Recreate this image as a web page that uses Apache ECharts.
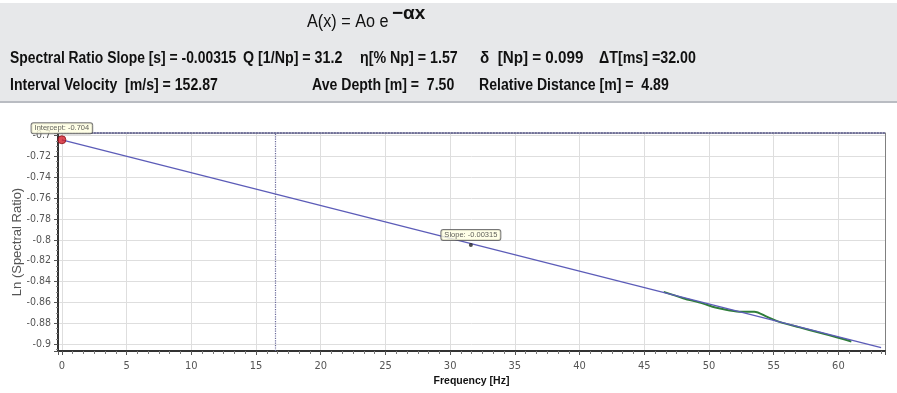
<!DOCTYPE html>
<html>
<head>
<meta charset="utf-8">
<script src="https://cdn.jsdelivr.net/npm/echarts@6/dist/echarts.min.js"></script>
<style>
  html, body { margin: 0; padding: 0; background: #fff; }
  #main { width: 897px; height: 393px; }
</style>
</head>
<body>
<div id="main"></div>
<script>
// fitted line (intercept / slope)
var fitFreq = [0, 63.3];
var fitLn = [-0.704, -0.9034];
// measured spectral ratio
var measFreq = [46.5, 48, 49.5, 50.5, 51.5, 52.5, 53.5, 54.5, 55.5, 57, 58.5, 60, 61];
var measLn = [-0.850, -0.856, -0.861, -0.865, -0.8675, -0.869, -0.869, -0.874, -0.879, -0.884, -0.889, -0.894, -0.8975];
// markers
var cursorFreq = 16.45;
var interceptPt = [0, -0.704];
var slopePt = [31.6, -0.805];
var interceptText = 'Intercept: -0.704';
var slopeText = 'Slope: -0.00315';

// header texts: [text, left x, horizontal squeeze]
var headerLine1 = [
    ['Spectral Ratio Slope [s] = -0.00315', 10, 0.867],
    ['Q [1/Np] = 31.2', 243, 0.89],
    ['\u03b7[% Np] = 1.57', 360, 0.89],
    ['\u03b4  [Np] = 0.099', 480, 0.95],
    ['\u0394T[ms] =32.00', 599, 0.89]
];
var headerLine2 = [
    ['Interval Velocity  [m/s] = 152.87', 10, 0.88],
    ['Ave Depth [m] =  7.50', 312, 0.88],
    ['Relative Distance [m] =  4.89', 479, 0.88]
];

function zip(a, b) {
    var res = [];
    for (var i = 0; i < a.length; i++) res.push([a[i], b[i]]);
    return res;
}

var myChart = echarts.init(document.getElementById('main'));

var headFont = 'bold 16px "Liberation Sans", Arial, sans-serif';
var graphics = [
    {
        type: 'rect', left: 0, top: 3, z: 0,
        shape: { width: 897, height: 99 },
        style: { fill: '#e7e8ea', stroke: null }
    },
    {
        type: 'rect', left: 0, top: 101, z: 0,
        shape: { width: 897, height: 2 },
        style: { fill: '#b9bcc2' }
    },
    {
        type: 'text', x: 307, y: 22, scaleX: 0.9, z: 1,
        style: { text: 'A(x) = Ao e', font: '18px "Liberation Sans", sans-serif', fill: '#111', verticalAlign: 'middle' }
    },
    {
        type: 'text', x: 392, y: 14, scaleX: 1, z: 1,
        style: { text: '\u2212\u03b1x', font: 'bold 19px "Liberation Sans", sans-serif', fill: '#111', verticalAlign: 'middle' }
    }
];
headerLine1.forEach(function (t) {
    graphics.push({ type: 'text', x: t[1], y: 59, scaleX: t[2], z: 1,
        style: { text: t[0], font: headFont, fill: '#111', verticalAlign: 'middle' } });
});
headerLine2.forEach(function (t) {
    graphics.push({ type: 'text', x: t[1], y: 86, scaleX: t[2], z: 1,
        style: { text: t[0], font: headFont, fill: '#111', verticalAlign: 'middle' } });
});

var tipLabel = {
    show: true,
    position: 'top',
    distance: 3,
    color: '#333',
    fontSize: 7.5,
    fontFamily: 'Liberation Sans, Arial, sans-serif',
    backgroundColor: '#ffffe1',
    borderColor: '#555',
    borderWidth: 1,
    borderRadius: 2,
    padding: [1, 3]
};

var tickFont = '"DejaVu Sans Condensed", "Liberation Sans", sans-serif';

var option = {
    animation: false,
    backgroundColor: '#fff',
    graphic: graphics,
    grid: { left: 58, right: 12, top: 133, bottom: 42, containLabel: false, outerBoundsMode: 'none' },
    xAxis: [{
        type: 'value',
        min: -0.3,
        max: 63.6,
        splitNumber: 13,
        name: 'Frequency [Hz]',
        nameLocation: 'middle',
        nameGap: 25,
        nameMoveOverlap: false,
        nameTextStyle: { color: '#111', fontWeight: 'bold', fontSize: 10.5, fontFamily: 'Liberation Sans, Arial, sans-serif' },
        axisLine: { onZero: false, lineStyle: { color: '#333', width: 2 } },
        axisTick: { show: true, length: 4, lineStyle: { color: '#555' } },
        minorTick: { show: true, splitNumber: 6, length: 3, lineStyle: { color: '#777' } },
        axisLabel: { color: '#555', fontSize: 11, margin: 10, fontFamily: tickFont, showMinLabel: false, showMaxLabel: false },
        splitLine: { show: true, lineStyle: { color: '#dedede', width: 1 } }
    }, {
        type: 'value',
        position: 'top',
        min: -0.3,
        max: 63.6,
        axisLine: { show: true, onZero: false, lineStyle: { color: '#4a4a7c', width: 1.5, type: 'dotted' } },
        axisTick: { show: false },
        axisLabel: { show: false },
        splitLine: { show: false }
    }],
    yAxis: [{
        type: 'value',
        min: -0.9067,
        max: -0.6975,
        splitNumber: 10,
        name: 'Ln (Spectral Ratio)',
        nameLocation: 'middle',
        nameGap: 34,
        nameMoveOverlap: false,
        nameTextStyle: { color: '#555', fontSize: 13, fontFamily: 'Liberation Sans, Arial, sans-serif' },
        axisLine: { show: true, onZero: false, lineStyle: { color: '#333', width: 2 } },
        axisTick: { show: true, length: 4, lineStyle: { color: '#555' } },
        minorTick: { show: true, splitNumber: 4, length: 2, lineStyle: { color: '#888' } },
        axisLabel: { color: '#555', fontSize: 10.5, margin: 7, fontFamily: tickFont, showMinLabel: false, showMaxLabel: false },
        splitLine: { show: true, lineStyle: { color: '#dedede', width: 1 } }
    }, {
        type: 'value',
        position: 'right',
        min: -0.9067,
        max: -0.6975,
        axisLine: { show: true, onZero: false, lineStyle: { color: '#808080', width: 1 } },
        axisTick: { show: false },
        axisLabel: { show: false },
        splitLine: { show: false }
    }],
    series: [
        {
            name: 'fit',
            type: 'line',
            data: zip(fitFreq, fitLn),
            showSymbol: false,
            lineStyle: { color: '#5c5cb8', width: 1.3 },
            markLine: {
                silent: true,
                symbol: 'none',
                label: { show: false },
                lineStyle: { color: '#6a6a9a', type: 'dotted', width: 1.2 },
                data: [{ xAxis: cursorFreq }]
            },
            z: 3
        },
        {
            name: 'measured',
            type: 'line',
            data: zip(measFreq, measLn),
            showSymbol: false,
            smooth: 0.3,
            lineStyle: { color: '#2f7d3a', width: 2 },
            z: 2
        },
        {
            name: 'intercept',
            type: 'scatter',
            data: [interceptPt],
            symbolSize: 8,
            itemStyle: { color: '#d4202c', borderColor: '#8a0f16', borderWidth: 1 },
            label: Object.assign({}, tipLabel, { formatter: interceptText, distance: 2 }),
            z: 5
        },
        {
            name: 'slope',
            type: 'scatter',
            data: [slopePt],
            symbolSize: 4,
            itemStyle: { color: '#222' },
            label: Object.assign({}, tipLabel, { formatter: slopeText, distance: 3 }),
            z: 5
        }
    ]
};

myChart.setOption(option);

window.addEventListener('resize', function () {
    myChart.resize();
});
</script>
</body>
</html>
